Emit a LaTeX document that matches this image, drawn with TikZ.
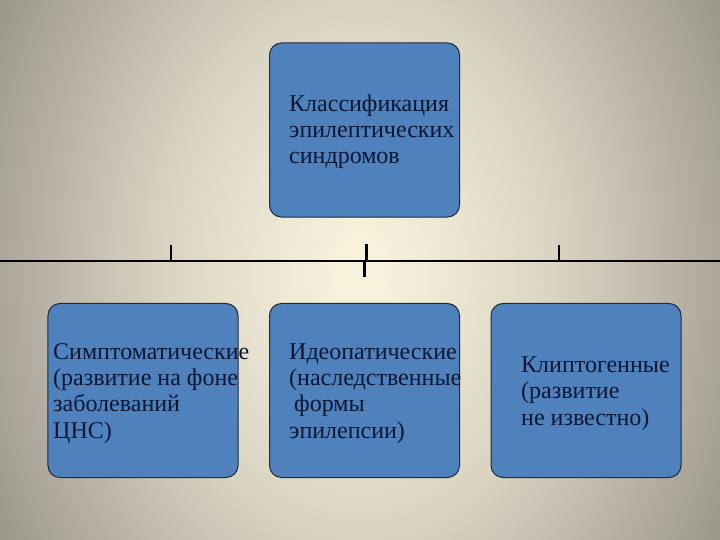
\documentclass[tikz,border=0pt]{standalone}
\usepackage{fontspec}
\setmainfont{Liberation Serif}
\definecolor{bgA}{HTML}{F7F1DC}
\definecolor{bgB}{HTML}{D9D4C1}
\definecolor{bgC}{HTML}{ABA69A}
\definecolor{bgD}{HTML}{9A968A}
\definecolor{bgE}{HTML}{96928A}
\definecolor{boxfill}{HTML}{4F81BD}
\definecolor{boxline}{HTML}{1F2A3A}
\definecolor{txtcol}{HTML}{0B1633}
\pgfdeclareradialshading{bgshade}{\pgfpoint{0bp}{0bp}}{color(0bp)=(bgA); color(1.5bp)=(bgA); color(11bp)=(bgB); color(20bp)=(bgC); color(23bp)=(bgD); color(25bp)=(bgE); color(50bp)=(bgE)}
\tikzset{
  box/.style={draw=boxline, line width=1bp, fill=boxfill, rounded corners=12bp, minimum width=190bp, minimum height=174bp, inner sep=0pt},
  txt/.style={text=txtcol, align=left, inner sep=0pt, font=\fontsize{24bp}{26.3bp}\selectfont},
  rule/.style={draw=black, line width=2.2bp},
  midtick/.style={draw=black, line width=3bp}
}
\begin{document}
\begin{tikzpicture}[x=1bp,y=-1bp]
\useasboundingbox (0,0) rectangle (720,540);
\begin{scope}
  \clip (0,0) rectangle (720,540);
  \shade[shading=bgshade] (-90,-330) rectangle (810,870);
\end{scope}
% boxes
\node[box] (top) at (364.5,130) {};
\node[box] (b1) at (143,390.5) {};
\node[box] (b2) at (364.5,390.5) {};
\node[box] (b3) at (586,390.5) {};
% texts (base anchor = baseline of the last line)
\node[txt, anchor=base west] (t0) at (289,164) {Классификация\\эпилептических\\синдромов};
\node[txt, anchor=base west] (t1) at (53,438) {Симптоматические\\(развитие на фоне\\заболеваний\\ЦНС)};
\node[txt, anchor=base west] (t2) at (289,438) {Идеопатические\\(наследственные\\\hspace*{5bp}формы\\эпилепсии)};
\node[txt, anchor=base west] (t3) at (521,425) {Клиптогенные\\(развитие\\не известно)};
% horizontal line and ticks
\coordinate (hl) at (0,261);
\coordinate (hr) at (720,261);
\draw[rule] (hl) -- (hr);
\coordinate (lt) at (171,245);
\coordinate (lb) at (171,261);
\draw[rule] (lt) -- (lb);
\coordinate (rt) at (559,245);
\coordinate (rb) at (559,261);
\draw[rule] (rt) -- (rb);
\coordinate (mt) at (366,244);
\coordinate (mm) at (366,261);
\coordinate (mm2) at (364.5,261);
\coordinate (mb) at (364.5,277);
\draw[midtick] (mt) -- (mm);
\draw[midtick] (mm2) -- (mb);
\end{tikzpicture}
\end{document}
